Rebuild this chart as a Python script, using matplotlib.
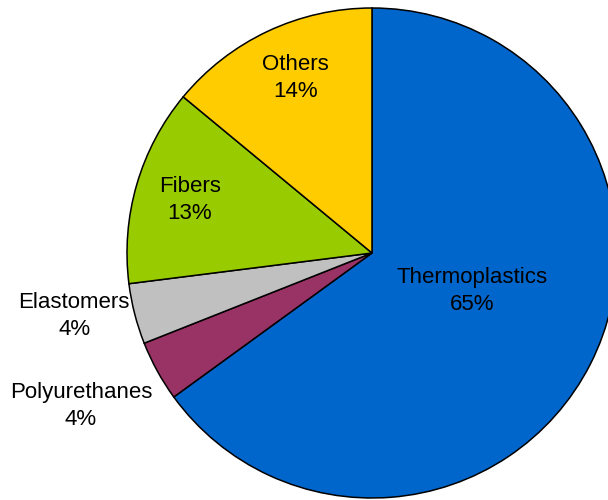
import matplotlib
matplotlib.use('Agg')
import matplotlib.pyplot as plt

# data
categories = ['Thermoplastics', 'Polyurethanes', 'Elastomers', 'Fibers', 'Others']
shares = [65, 4, 4, 13, 14]
colors = ['#0066CC', '#993366', '#C0C0C0', '#99CC00', '#FFCC00']

# label anchor points (pie radius = 1)
label_pos = [(0.408, -0.155), (-1.188, -0.624), (-1.216, -0.257),
             (-0.743, 0.216), (-0.314, 0.714)]

plt.rcParams['font.family'] = ['Liberation Sans', 'DejaVu Sans']

fig = plt.figure(figsize=(6.08, 5.00), dpi=100)
ax = fig.add_axes([0, 0, 1, 1])

ax.pie(shares, colors=colors, startangle=90, counterclock=False,
       radius=1, center=(0, 0), frame=True,
       wedgeprops=dict(edgecolor='black', linewidth=1.1))

for name, val, (x, y) in zip(categories, shares, label_pos):
    ax.text(x, y, '%s\n%d%%' % (name, val), ha='center', va='center',
            fontsize=16, linespacing=1.38, color='black')

r_px = 245.0
ax.set_xlim(-372 / r_px, (608 - 372) / r_px)
ax.set_ylim(-(500 - 253) / r_px, 253 / r_px)
ax.set_aspect('equal')
ax.axis('off')

fig.savefig('out.png', dpi=100)
